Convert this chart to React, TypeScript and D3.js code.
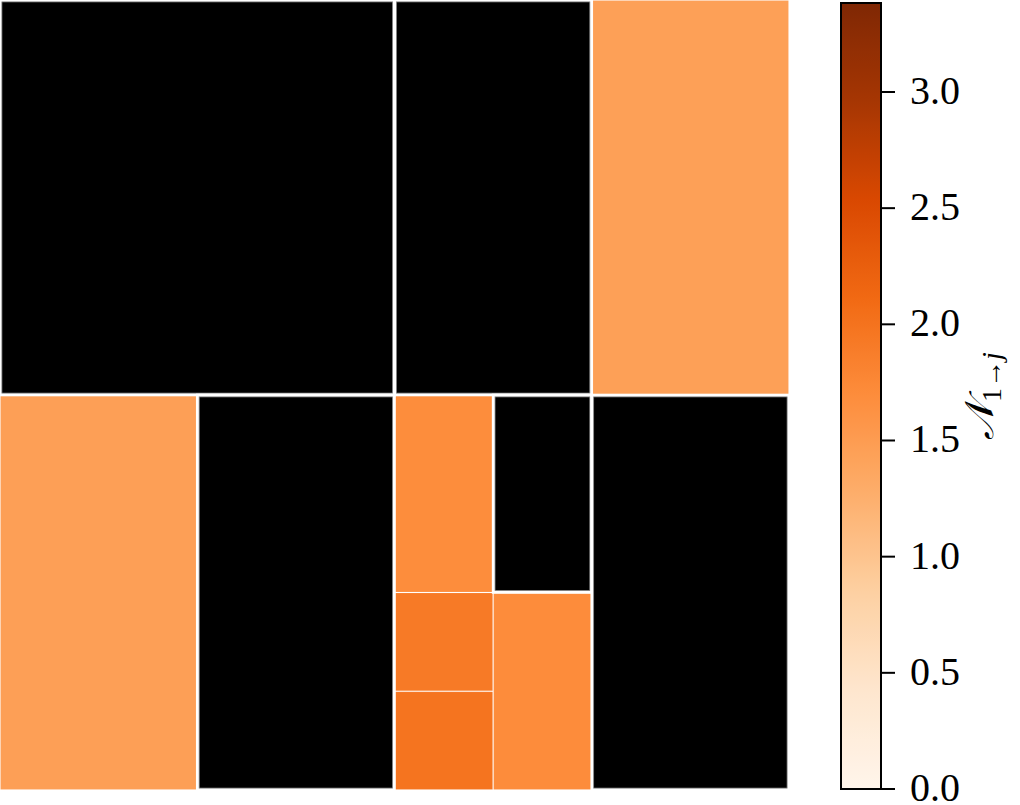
import React from "react";
import * as d3 from "d3";

// Cells of the adaptive partition (unit square, y measured upward), value NaN = empty (drawn black)
const cellX0 = [0, 0.5, 0.75, 0, 0.25, 0.5, 0.625, 0.5, 0.5, 0.625, 0.75];
const cellX1 = [0.5, 0.75, 1, 0.25, 0.5, 0.625, 0.75, 0.625, 0.625, 0.75, 1];
const cellY0 = [0.5, 0.5, 0.5, 0, 0, 0.25, 0.25, 0.125, 0, 0, 0];
const cellY1 = [1, 1, 1, 0.5, 0.5, 0.5, 0.5, 0.25, 0.125, 0.25, 0.5];
const cellValues = [NaN, NaN, 1.45, 1.46, NaN, 1.69, NaN, 1.92, 1.99, 1.7, NaN];

const colorbarTicks = [0, 0.5, 1.0, 1.5, 2.0, 2.5, 3.0];
const vmin = 0;
const vmax = 3.383;

const orangesColors = [
  "#fff5eb", "#fee6ce", "#fdd0a2", "#fdae6b", "#fd8d3c",
  "#f16913", "#d94801", "#a63603", "#7f2704",
];

export default function App() {
  const W = 1020;
  const H = 805;
  const plot = { left: 0, right: 789, top: 0, bottom: 790 };
  const x = d3.scaleLinear().domain([0, 1]).range([plot.left, plot.right]);
  const y = d3.scaleLinear().domain([0, 1]).range([plot.bottom, plot.top]);

  const cmapT = d3
    .scaleLinear<string>()
    .domain(orangesColors.map((_, i) => i / (orangesColors.length - 1)))
    .range(orangesColors)
    .interpolate(d3.interpolateRgb);
  const norm = d3.scaleLinear().domain([vmin, vmax]).range([0, 1]).clamp(true);
  const color = (v: number) => cmapT(norm(v));

  const cb = { x: 841, w: 40, top: 3, bottom: 789 };
  const cbY = d3.scaleLinear().domain([vmin, vmax]).range([cb.bottom, cb.top]);
  const gradStops = d3.range(0, 65).map((i) => i / 64);

  const cells = cellValues.map((v, i) => ({
    v,
    x0: x(cellX0[i]),
    x1: x(cellX1[i]),
    yTop: y(cellY1[i]),
    yBot: y(cellY0[i]),
  }));
  const orange = cells.filter((c) => !isNaN(c.v));
  const black = cells.filter((c) => isNaN(c.v));

  const labelX = 993;
  const labelY = 396;

  return (
    <svg
      width={W}
      height={H}
      style={{ position: "absolute", left: 0, top: 0, background: "white" }}
      fontFamily="'Liberation Serif', serif"
    >
      <defs>
        <linearGradient id="cbgrad" x1="0" y1="1" x2="0" y2="0">
          {gradStops.map((t) => (
            <stop key={t} offset={t} stopColor={cmapT(t)} />
          ))}
        </linearGradient>
      </defs>
      {orange.map((c, i) => (
        <rect
          key={"o" + i}
          x={c.x0 + 0.5}
          y={c.yTop + 0.5}
          width={c.x1 - c.x0 - 1}
          height={c.yBot - c.yTop - 1}
          fill={color(c.v)}
          stroke="white"
          strokeOpacity={0.12}
          strokeWidth={1}
        />
      ))}
      {black.map((c, i) => (
        <g key={"b" + i}>
          <rect
            x={c.x0 - 1.3}
            y={c.yTop - 1.3}
            width={c.x1 - c.x0 + 2.6}
            height={c.yBot - c.yTop + 2.6}
            fill="white"
          />
          <rect
            x={c.x0 + 1.9}
            y={c.yTop + 1.9}
            width={c.x1 - c.x0 - 3.8}
            height={c.yBot - c.yTop - 3.8}
            fill="black"
            stroke="#8a8a8a"
            strokeWidth={0.8}
          />
        </g>
      ))}
      {/* colorbar */}
      <rect
        x={cb.x}
        y={cb.top}
        width={cb.w}
        height={cb.bottom - cb.top}
        fill="url(#cbgrad)"
        stroke="black"
        strokeWidth={2}
      />
      {colorbarTicks.map((t) => (
        <g key={t} transform={`translate(${cb.x + cb.w},${cbY(t)})`}>
          <line x1={0} x2={14} y1={0} y2={0} stroke="black" strokeWidth={2} />
          <text x={29} y={0} dy="0.3em" fontSize={40} fill="black">
            {t.toFixed(1)}
          </text>
        </g>
      ))}
      <text
        transform={`translate(${labelX},${labelY}) rotate(-90)`}
        textAnchor="middle"
        fontSize={40}
        fill="black"
      >
        <tspan fontFamily="'DejaVu Serif', 'DejaVu Sans', serif" fontStyle="italic">𝒩</tspan>
        <tspan fontSize={28} dy={8}>1→</tspan>
        <tspan fontSize={28} fontStyle="italic">j</tspan>
      </text>
    </svg>
  );
}
